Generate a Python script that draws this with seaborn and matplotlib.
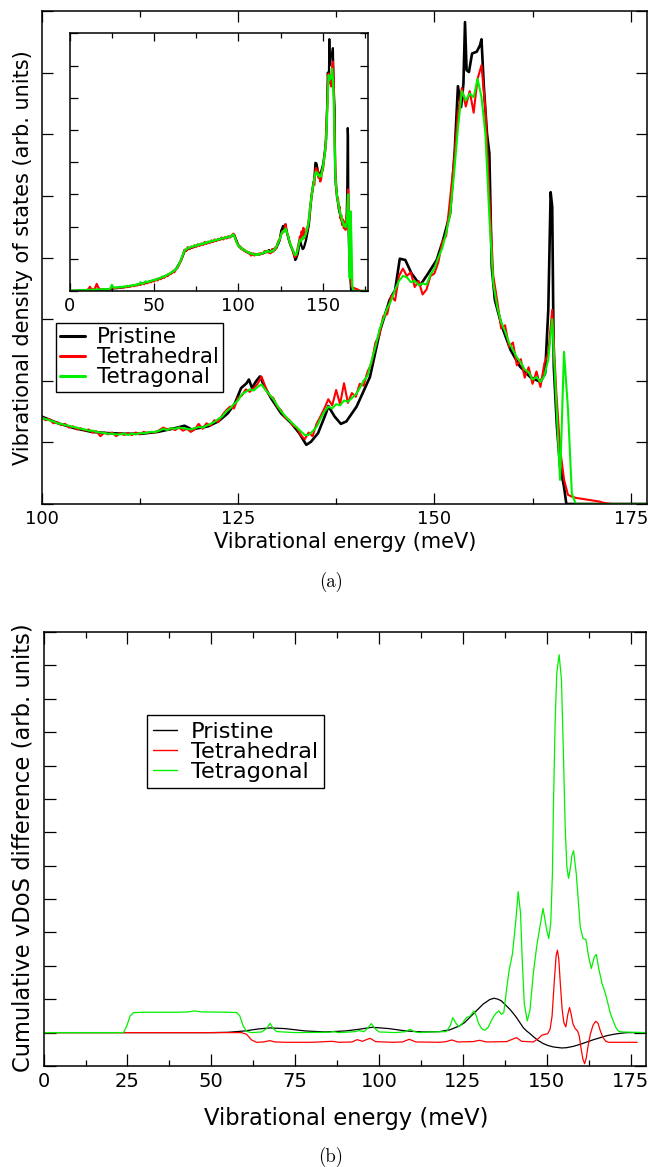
# Vibrational density of states (a) and cumulative vDoS difference (b)
# for pristine, tetrahedral and tetragonal structures.
import numpy as np
import seaborn as sns
import matplotlib.pyplot as plt
from matplotlib.ticker import MultipleLocator, NullFormatter, NullLocator

sns.set_theme(style="ticks")
plt.rcParams["font.family"] = ["DejaVu Sans"]
plt.rcParams["text.color"] = "black"
plt.rcParams["axes.labelcolor"] = "black"
plt.rcParams["xtick.color"] = "black"
plt.rcParams["ytick.color"] = "black"

LABELS = ["Pristine", "Tetrahedral", "Tetragonal"]
COLORS = ["black", "#ff0000", "#00f000"]

# ---------------- panel (a): vDoS ----------------
pristine_energy = [0, 10, 20, 24.5, 25, 26, 30, 35, 40, 45, 50, 55, 60, 63, 66, 68, 70, 75, 80, 85,
                   90, 95, 97.5, 99, 100, 102.1, 104.2, 106.4, 108.5, 110.6, 112.7, 114.8, 117, 118.2,
                   119.1, 121.2, 122.5, 123.7, 124.6, 125.4, 126.1, 126.4, 126.8, 127.3, 127.8, 128.4,
                   129.2, 130.5, 131.8, 132.8, 133.7, 134.3, 135.2, 136.2, 136.5, 137.3, 138.1, 138.8,
                   140.1, 141.8, 143.1, 144.3, 145, 145.6, 146.3, 147.1, 148.2, 149.2, 150.3, 151.1,
                   152, 152.6, 153, 153.4, 153.7, 153.9, 154.1, 154.4, 154.8, 155.4, 155.8, 156, 156.3,
                   156.7, 157, 157.3, 157.7, 158.6, 159.7, 160.9, 162.2, 163.5, 164.1, 164.5, 164.8,
                   165, 165.2, 165.6, 166, 166.5, 166.8, 177]
pristine_dos = [0.0, 0.02, 0.04, 0.05, 0.14, 0.08, 0.10, 0.14, 0.19, 0.26, 0.33, 0.42, 0.55, 0.68, 0.95,
                1.22, 1.30, 1.40, 1.48, 1.55, 1.62, 1.68, 1.75, 1.55, 1.42, 1.31, 1.23, 1.17, 1.15, 1.14,
                1.14, 1.17, 1.23, 1.27, 1.21, 1.26, 1.34, 1.47, 1.63, 1.88, 1.96, 2.02, 1.88, 1.99, 2.07,
                1.90, 1.72, 1.47, 1.31, 1.15, 0.96, 1.01, 1.15, 1.47, 1.59, 1.42, 1.30, 1.34, 1.58, 2.06,
                2.82, 3.31, 3.47, 3.98, 3.96, 3.74, 3.55, 3.74, 3.96, 4.28, 4.71, 5.74, 6.78, 6.44, 6.82,
                7.82, 7.04, 7.01, 7.31, 7.34, 7.44, 7.54, 6.77, 6.01, 5.69, 3.85, 3.31, 2.88, 2.50, 2.23,
                2.06, 1.98, 2.12, 3.15, 5.06, 4.82, 2.23, 1.25, 0.61, 0.28, 0.0, 0.0]

# defect structures are sampled on a common grid: 0-99 meV every 1 meV, 100-177 meV every 0.5 meV
grid_energy = np.concatenate([np.arange(0, 100, 1.0), np.arange(100, 177.5, 0.5)])

tetrahedral_dos = [
    0.00, 0.00, 0.01, 0.00, 0.01, 0.01, 0.00, 0.02, 0.01, 0.02,
    0.03, 0.05, 0.13, 0.04, 0.05, 0.08, 0.22, 0.10, 0.05, 0.04,
    0.05, 0.04, 0.06, 0.05, 0.06, 0.12, 0.09, 0.10, 0.09, 0.11,
    0.10, 0.12, 0.11, 0.13, 0.12, 0.15, 0.14, 0.16, 0.15, 0.19,
    0.17, 0.20, 0.19, 0.24, 0.21, 0.26, 0.24, 0.28, 0.27, 0.31,
    0.30, 0.35, 0.33, 0.38, 0.37, 0.42, 0.41, 0.47, 0.46, 0.52,
    0.53, 0.60, 0.58, 0.68, 0.72, 0.84, 0.95, 1.10, 1.28, 1.24,
    1.36, 1.30, 1.38, 1.34, 1.42, 1.37, 1.45, 1.40, 1.47, 1.43,
    1.52, 1.46, 1.53, 1.49, 1.57, 1.52, 1.60, 1.55, 1.62, 1.58,
    1.66, 1.60, 1.67, 1.63, 1.70, 1.66, 1.72, 1.78, 1.66, 1.52,
    # 100 meV onwards, 0.5 meV steps
    1.42, 1.36, 1.38, 1.31, 1.33, 1.28, 1.30, 1.24, 1.26, 1.21,
    1.23, 1.19, 1.21, 1.16, 1.18, 1.10, 1.16, 1.13, 1.16, 1.10,
    1.15, 1.12, 1.15, 1.12, 1.16, 1.13, 1.17, 1.15, 1.17, 1.16,
    1.20, 1.24, 1.21, 1.23, 1.20, 1.24, 1.19, 1.22, 1.17, 1.21,
    1.30, 1.22, 1.31, 1.27, 1.36, 1.33, 1.44, 1.52, 1.58, 1.55,
    1.72, 1.76, 1.86, 1.82, 1.88, 1.95, 2.07, 1.90, 1.76, 1.72,
    1.58, 1.52, 1.40, 1.37, 1.27, 1.24, 1.12, 1.05, 1.16, 1.10,
    1.30, 1.42, 1.55, 1.70, 1.60, 1.85, 1.62, 1.96, 1.64, 1.80,
    1.74, 1.95, 1.92, 2.15, 2.28, 2.62, 2.74, 3.05, 3.08, 3.38,
    3.30, 3.70, 3.82, 3.70, 3.76, 3.52, 3.62, 3.40, 3.48, 3.70,
    3.74, 3.92, 4.25, 4.35, 4.95, 5.55, 6.35, 6.75, 6.45, 6.70,
    6.35, 6.90, 7.12, 6.40, 5.00, 3.70, 3.30, 2.85, 2.90, 2.55,
    2.62, 2.25, 2.35, 2.05, 2.22, 1.95, 2.15, 1.90, 2.28, 2.45,
    3.15, 1.85, 0.90, 0.40, 0.15, 0.12, 0.10, 0.09, 0.08, 0.07,
    0.06, 0.05, 0.04, 0.02, 0.01, 0.00, 0.00, 0.00, 0.00, 0.00,
    0.00, 0.00, 0.00, 0.00, 0.00]

tetragonal_dos = [
    0.01, 0.01, 0.01, 0.02, 0.01, 0.02, 0.02, 0.02, 0.03, 0.02,
    0.03, 0.03, 0.04, 0.03, 0.04, 0.04, 0.05, 0.04, 0.05, 0.05,
    0.05, 0.06, 0.05, 0.06, 0.07, 0.19, 0.11, 0.10, 0.12, 0.11,
    0.13, 0.12, 0.14, 0.13, 0.16, 0.15, 0.17, 0.16, 0.19, 0.18,
    0.21, 0.20, 0.27, 0.22, 0.25, 0.30, 0.27, 0.29, 0.31, 0.33,
    0.35, 0.34, 0.38, 0.39, 0.41, 0.45, 0.44, 0.48, 0.51, 0.53,
    0.57, 0.60, 0.63, 0.69, 0.75, 0.86, 0.98, 1.12, 1.25, 1.30,
    1.33, 1.35, 1.37, 1.38, 1.41, 1.40, 1.44, 1.43, 1.47, 1.46,
    1.50, 1.49, 1.53, 1.52, 1.56, 1.55, 1.58, 1.58, 1.61, 1.60,
    1.64, 1.63, 1.66, 1.66, 1.69, 1.68, 1.71, 1.76, 1.64, 1.50,
    # 100 meV onwards, 0.5 meV steps
    1.40, 1.38, 1.36, 1.34, 1.31, 1.30, 1.28, 1.27, 1.25, 1.24,
    1.22, 1.21, 1.19, 1.19, 1.17, 1.16, 1.15, 1.14, 1.14, 1.13,
    1.13, 1.14, 1.12, 1.14, 1.13, 1.15, 1.15, 1.16, 1.17, 1.17,
    1.19, 1.22, 1.20, 1.23, 1.22, 1.24, 1.23, 1.22, 1.21, 1.23,
    1.25, 1.24, 1.27, 1.30, 1.33, 1.38, 1.42, 1.50, 1.55, 1.62,
    1.68, 1.78, 1.82, 1.86, 1.84, 1.90, 1.94, 1.85, 1.78, 1.70,
    1.60, 1.50, 1.43, 1.36, 1.30, 1.24, 1.18, 1.12, 1.12, 1.18,
    1.25, 1.38, 1.50, 1.58, 1.55, 1.62, 1.60, 1.68, 1.66, 1.72,
    1.78, 1.88, 2.00, 2.08, 2.32, 2.55, 2.82, 3.00, 3.18, 3.30,
    3.48, 3.62, 3.70, 3.68, 3.60, 3.62, 3.55, 3.58, 3.56, 3.72,
    3.82, 4.00, 4.15, 4.40, 4.70, 5.35, 6.10, 6.70, 6.55, 6.66,
    6.60, 6.90, 6.60, 6.00, 4.66, 3.58, 3.20, 2.95, 2.80, 2.62,
    2.50, 2.38, 2.30, 2.18, 2.14, 2.02, 2.06, 1.98, 2.08, 2.35,
    3.00, 1.70, 0.39, 2.47, 1.55, 0.17, 0.00, 0.00, 0.00, 0.00,
    0.00, 0.00, 0.00, 0.00, 0.00, 0.00, 0.00, 0.00, 0.00, 0.00,
    0.00, 0.00, 0.00, 0.00, 0.00]

# ---------------- panel (b): cumulative vDoS difference ----------------
cum_pristine_energy = [0, 50, 55, 60, 64, 67.5, 72, 78, 84, 90, 94, 98, 103, 108, 113, 118, 121, 124,
                       125.5, 127, 128.5, 130, 131, 132, 133, 134.3, 135.5, 136.5, 137.5, 139, 140, 141,
                       142, 143, 144, 145, 146, 147.5, 149, 150.5, 152, 154.5, 156, 158, 160, 162, 164,
                       166, 168, 170, 172, 174, 179.6]
cum_pristine = [0, 0, 0.01, 0.05, 0.11, 0.14, 0.12, 0.05, 0.02, 0.05, 0.10, 0.16, 0.12, 0.05, 0.02,
                0.03, 0.08, 0.20, 0.30, 0.45, 0.60, 0.75, 0.85, 0.92, 0.99, 1.03, 1.00, 0.95, 0.85,
                0.70, 0.58, 0.45, 0.30, 0.15, 0.05, -0.03, -0.12, -0.24, -0.33, -0.39, -0.43, -0.46,
                -0.45, -0.41, -0.35, -0.28, -0.21, -0.15, -0.09, -0.05, -0.02, 0.0, 0.0]

cum_tetrahedral_energy = [0, 59, 60.5, 62, 63.5, 65.5, 67.5, 69, 72, 80, 86, 88, 92, 93.5, 95, 97.3, 99,
                          104, 107, 109, 111, 118, 120, 121.7, 123.5, 128, 130, 132, 138, 141, 142.5,
                          146, 147.5, 148.5, 150.3, 151, 151.6, 152.3, 152.8, 153.2, 153.6, 154.1,
                          154.6, 155.1, 155.7, 156.3, 156.8, 157.3, 157.8, 158.5, 159.2, 159.7, 160.2,
                          160.8, 161.3, 161.8, 162.3, 163, 163.8, 164.6, 165.3, 166, 166.8, 167.6,
                          168.5, 177]
cum_tetrahedral = [0, 0, -0.05, -0.22, -0.29, -0.28, -0.24, -0.28, -0.29, -0.29, -0.26, -0.29, -0.28,
                   -0.21, -0.26, -0.17, -0.27, -0.29, -0.28, -0.20, -0.28, -0.29, -0.27, -0.22, -0.28,
                   -0.27, -0.23, -0.28, -0.27, -0.15, -0.26, -0.28, -0.18, -0.08, -0.03, 0.10, 0.50,
                   1.60, 2.30, 2.47, 2.20, 1.40, 0.70, 0.30, 0.17, 0.55, 0.75, 0.55, 0.27, 0.12, 0.05,
                   -0.10, -0.45, -0.80, -0.93, -0.75, -0.42, -0.05, 0.22, 0.34, 0.28, 0.05, -0.15,
                   -0.26, -0.29, -0.29]

cum_tetragonal_energy = [0, 23.8, 24.8, 25.8, 26.8, 30, 40, 43, 45, 47, 55, 57.6, 58.5, 59.5, 60.5, 62,
                         65, 66.5, 67.5, 68.5, 69.5, 75, 85, 86.5, 88, 93, 94, 95.5, 96.5, 97.7, 98.8,
                         100, 105, 108, 109.2, 110.5, 112, 115, 120, 121.2, 122, 122.8, 123.8, 125,
                         126, 127.2, 128.3, 129, 129.7, 130.6, 131.5, 132.5, 133.8, 134.8, 135.7,
                         136.5, 137.2, 138, 138.8, 139.8, 140.8, 141.5, 142.2, 142.7, 143.3, 144.2,
                         145, 146, 147, 147.8, 148.9, 150, 150.6, 151.2, 151.7, 152, 152.5, 153,
                         153.7, 154.4, 155, 155.5, 156, 156.5, 157, 157.5, 158, 158.8, 160, 160.8,
                         161.7, 162.5, 163.3, 164.2, 164.8, 165.5, 166.5, 167.5, 169, 170, 170.8,
                         171.5, 172.5, 179.6]
cum_tetragonal = [0, 0, 0.20, 0.50, 0.60, 0.61, 0.61, 0.62, 0.65, 0.62, 0.61, 0.60, 0.50, 0.20, 0.04,
                  0.0, 0.02, 0.12, 0.28, 0.12, 0.03, 0.0, 0.01, 0.03, 0.0, 0.03, 0.06, 0.03, 0.12,
                  0.27, 0.12, 0.02, 0.0, 0.03, 0.10, 0.03, 0.0, 0.02, 0.03, 0.20, 0.45, 0.30, 0.17,
                  0.30, 0.44, 0.50, 0.65, 0.50, 0.27, 0.12, 0.07, 0.15, 0.42, 0.57, 0.65, 0.55, 0.60,
                  1.27, 1.87, 2.37, 3.37, 4.22, 3.57, 2.17, 0.87, 0.35, 0.67, 1.77, 2.57, 3.07, 3.72,
                  3.07, 2.82, 3.27, 4.77, 6.77, 9.27, 10.77, 11.32, 10.57, 8.27, 6.17, 4.97, 4.62,
                  4.90, 5.30, 5.45, 4.77, 3.17, 2.82, 2.79, 2.27, 1.92, 2.27, 2.34, 1.92, 1.47, 1.17,
                  0.57, 0.30, 0.12, 0.04, 0.02, 0.0]


def style_axes(ax, x_major, x_minor, major_len, minor_len, labelsize):
    ax.xaxis.set_major_locator(MultipleLocator(x_major))
    ax.xaxis.set_minor_locator(MultipleLocator(x_minor))
    ax.yaxis.set_major_locator(MultipleLocator(1))
    ax.yaxis.set_minor_locator(NullLocator())
    ax.yaxis.set_major_formatter(NullFormatter())
    ax.tick_params(which="both", direction="in", top=True, right=True, width=0.9,
                   color="black", labelsize=labelsize, pad=4, labelcolor="black")
    ax.tick_params(which="major", length=major_len)
    ax.tick_params(which="minor", length=minor_len)
    ax.set_xlabel("")
    ax.set_ylabel("")
    for spine in ax.spines.values():
        spine.set_visible(True)
        spine.set_linewidth(1.1)
        spine.set_color("black")


def draw_dos(ax, lw_black, lw_color, with_labels):
    series = [(pristine_energy, pristine_dos), (grid_energy, tetrahedral_dos),
              (grid_energy, tetragonal_dos)]
    for (x, y), name, col in zip(series, LABELS, COLORS):
        sns.lineplot(x=x, y=y, ax=ax, color=col, estimator=None,
                     linewidth=lw_black if col == "black" else lw_color,
                     label=name if with_labels else None, legend=False)


fig = plt.figure(figsize=(6.48, 11.67), dpi=100)
W, H = 648.0, 1167.0


def px_axes(left, top, right, bottom):
    return fig.add_axes([left / W, 1 - bottom / H, (right - left) / W, (bottom - top) / H])


# main panel (a)
ax_a = px_axes(41.5, 11, 646.5, 504)
draw_dos(ax_a, 1.9, 1.5, True)
ax_a.set_xlim(100, 177)
ax_a.set_ylim(0, 8)
style_axes(ax_a, 25, 12.5, 7.7, 4.1, 13)
leg_a = ax_a.legend(loc="upper left", bbox_to_anchor=(56 / W, 1 - 323 / H),
                    bbox_transform=fig.transFigure, borderaxespad=0, fontsize=15.5,
                    frameon=True, fancybox=False, framealpha=1, edgecolor="black",
                    borderpad=0.2, labelspacing=0.0, handlelength=1.15, handletextpad=0.56)
leg_a.get_frame().set_linewidth(1.0)
for line in leg_a.get_lines():
    line.set_linewidth(2.2)

# inset: full energy range
ax_in = px_axes(69.7, 33.3, 368.3, 291)
ax_in.set_facecolor("white")
draw_dos(ax_in, 1.6, 1.6, False)
ax_in.set_xlim(0, 177)
ax_in.set_ylim(0, 8)
style_axes(ax_in, 50, 25, 6, 3.5, 13)

# panel (b)
ax_b = px_axes(43.6, 632, 646, 1066)
cum_series = [(cum_pristine_energy, cum_pristine), (cum_tetrahedral_energy, cum_tetrahedral),
              (cum_tetragonal_energy, cum_tetragonal)]
for (x, y), name, col in zip(cum_series, LABELS, COLORS):
    sns.lineplot(x=x, y=y, ax=ax_b, color=col, estimator=None, linewidth=0.9,
                 label=name, legend=False)
ax_b.set_xlim(0, 179.6)
ax_b.set_ylim(-1, 12)
style_axes(ax_b, 25, 12.5, 8.4, 4.3, 14)
leg_b = ax_b.legend(loc="upper left", bbox_to_anchor=(146.7 / W, 1 - 715.2 / H),
                    bbox_transform=fig.transFigure, borderaxespad=0, fontsize=16.2,
                    frameon=True, fancybox=False, framealpha=1, edgecolor="black",
                    borderpad=0.28, labelspacing=0.0, handlelength=1.07, handletextpad=0.6)
leg_b.get_frame().set_linewidth(1.0)
for line in leg_b.get_lines():
    line.set_linewidth(1.0)

# axis labels and captions
fig.text(23 / W, 1 - 257.5 / H, "Vibrational density of states (arb. units)", rotation=90,
         ha="center", va="center", fontsize=15)
fig.text(345 / W, 1 - 542 / H, "Vibrational energy (meV)", ha="center", va="center", fontsize=15)
fig.text(331 / W, 1 - 582 / H, "(a)", ha="center", va="center", fontsize=13.5, family="cmr10")
fig.text(23 / W, 1 - 848 / H, "Cumulative vDoS difference (arb. units)", rotation=90,
         ha="center", va="center", fontsize=16.3)
fig.text(346 / W, 1 - 1118 / H, "Vibrational energy (meV)", ha="center", va="center",
         fontsize=16.3)
fig.text(331 / W, 1 - 1157 / H, "(b)", ha="center", va="center", fontsize=13.5, family="cmr10")

fig.savefig("out.png", dpi=100)
